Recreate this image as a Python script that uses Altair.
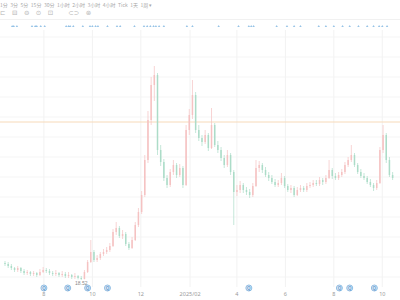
import altair as alt
import pandas as pd

# ---------------- data ----------------
start_date = "2024-06-13"
candle_days = 4
first_open = 27.0
closes = [26.5, 25.5, 24.5, 23.5, 24.5, 23.0, 22.0, 22.5, 21.5, 22.0,
          21.0, 22.5, 23.5, 23.0, 22.0, 21.5, 22.0, 21.0, 21.5, 20.5,
          21.0, 20.0, 20.5, 19.5, 19.0, 22.5, 27.5, 32.5, 28.5, 29.5,
          31.5, 32.5, 33.5, 35.5, 42.5, 44.5, 40.5, 41.5, 36.5, 34.5,
          38.5, 46.0, 52.5, 61.0, 78.5, 98.5, 116.0, 121.0, 83.5, 77.5,
          69.5, 66.0, 72.5, 76.0, 71.0, 74.5, 66.0, 93.5, 101.0, 111.0,
          93.5, 89.5, 87.5, 91.0, 84.5, 96.0, 86.0, 83.5, 79.5, 76.0,
          81.0, 72.5, 62.5, 63.5, 66.0, 63.5, 62.5, 61.0, 65.5, 74.5,
          76.0, 73.5, 71.0, 69.5, 67.5, 66.0, 67.0, 69.5, 65.5, 63.5,
          64.5, 61.0, 63.5, 64.5, 63.5, 65.5, 66.0, 67.0, 66.5, 68.5,
          67.5, 69.5, 73.5, 70.5, 69.5, 71.0, 72.5, 76.0, 78.5, 81.0,
          76.0, 72.5, 70.5, 69.5, 67.5, 66.0, 64.5, 67.0, 83.5, 91.0,
          78.5, 71.0, 69.5]
highs = [28.0, 27.5, 26.5, 25.0, 25.5, 25.0, 24.0, 23.5, 23.0, 23.0,
         22.5, 24.0, 25.0, 24.5, 24.0, 23.0, 23.5, 22.5, 23.0, 22.5,
         22.5, 21.5, 22.0, 21.0, 20.5, 23.5, 28.5, 38.5, 33.5, 31.0,
         32.5, 34.0, 35.0, 37.0, 44.0, 47.5, 45.5, 43.5, 42.5, 37.5,
         40.0, 47.5, 54.5, 63.0, 81.0, 103.0, 120.0, 125.5, 122.0, 86.0,
         79.0, 71.0, 74.0, 78.5, 77.0, 76.5, 75.5, 96.0, 104.0, 118.5,
         112.5, 96.0, 91.0, 93.5, 92.0, 104.5, 97.0, 88.0, 85.0, 81.0,
         83.5, 82.0, 73.5, 66.0, 68.0, 67.0, 65.0, 64.0, 67.0, 78.5,
         78.0, 77.0, 75.0, 72.5, 71.0, 69.0, 68.5, 72.0, 70.5, 66.5,
         66.0, 65.5, 65.0, 66.0, 65.5, 67.0, 67.5, 68.5, 68.5, 70.0,
         69.5, 71.0, 78.5, 74.5, 72.0, 72.5, 74.0, 77.5, 80.0, 86.0,
         82.0, 77.0, 74.0, 72.0, 70.5, 69.0, 67.0, 68.5, 85.0, 96.0,
         92.0, 80.0, 72.5]
lows = [25.5, 24.5, 23.5, 22.5, 22.5, 22.0, 21.0, 21.0, 20.5, 20.5,
        20.0, 20.5, 22.0, 22.0, 21.0, 20.5, 20.5, 20.0, 20.0, 19.5,
        19.5, 19.0, 19.0, 18.8, 18.52, 18.8, 22.0, 27.0, 27.5, 27.5,
        28.5, 30.5, 31.5, 32.5, 35.0, 41.0, 39.5, 39.0, 35.5, 33.5,
        34.0, 38.0, 45.0, 51.5, 60.0, 77.0, 96.0, 108.0, 81.0, 75.5,
        68.0, 64.5, 65.0, 71.0, 69.5, 70.0, 64.5, 65.5, 91.0, 99.0,
        92.0, 88.0, 85.5, 86.5, 83.0, 84.0, 85.0, 82.0, 78.0, 74.5,
        75.0, 71.0, 46.0, 60.5, 62.0, 62.0, 61.0, 59.5, 60.0, 65.0,
        72.5, 72.0, 70.0, 68.0, 66.5, 65.0, 65.0, 66.0, 64.5, 62.5,
        62.0, 60.0, 60.5, 62.5, 62.5, 62.5, 64.5, 65.0, 65.5, 65.5,
        66.0, 66.5, 69.0, 69.0, 68.5, 68.5, 70.0, 71.5, 75.0, 77.5,
        75.0, 71.5, 69.5, 68.5, 66.5, 65.0, 63.0, 63.5, 66.5, 82.0,
        77.0, 70.0, 68.5]

grid_prices = [20, 30, 40, 50, 60, 70, 80, 90, 100, 110, 120, 130, 140]
ref_price = 97.5
min_label = "18.52"
min_date = "2024-09-17"

tick_dates = ["2024-08-01", "2024-10-01", "2024-12-01", "2025-02-01",
              "2025-04-01", "2025-06-01", "2025-08-01", "2025-10-01"]
tick_labels = ["8", "10", "12", "2025/02", "4", "6", "8", "10"]

top_event_dates = ["2024-06-22", "2024-06-24", "2024-06-28", "2024-07-17", "2024-07-21",
                   "2024-07-23", "2024-07-28", "2024-08-02", "2024-08-29", "2024-09-01",
                   "2024-09-03", "2024-09-07", "2024-09-19", "2024-09-28", "2024-10-01",
                   "2024-10-05", "2024-10-08", "2024-10-20", "2024-11-01", "2024-11-05",
                   "2024-11-23", "2024-12-05", "2024-12-09", "2024-12-13", "2024-12-17",
                   "2024-12-20", "2024-12-24", "2024-12-30", "2025-01-28", "2025-02-04",
                   "2025-03-09", "2025-04-03", "2025-04-16", "2025-04-19", "2025-04-22",
                   "2025-05-21", "2025-06-03", "2025-06-12", "2025-06-20", "2025-07-13",
                   "2025-07-22", "2025-08-01", "2025-08-12", "2025-08-21", "2025-09-01",
                   "2025-09-12", "2025-09-20", "2025-09-27", "2025-10-01", "2025-10-07"]
bottom_event_dates = ["2024-08-01", "2024-08-31", "2024-09-25", "2024-10-20",
                      "2025-04-16", "2025-08-08", "2025-08-21", "2025-09-21"]

toolbar_items = ["1分", "3分", "5分", "15分", "30分", "1小时", "2小时", "3小时", "4小时", "Tick", "1天", "1周 ▾"]
icon_items = ["⊏", "⊟", "⊖", "⊙", "⊡", " ", "⊂⊃", "⊚"]

# ---------------- frames ----------------
dates = pd.date_range(start_date, periods=len(closes), freq=f"{candle_days}D")
opens = [first_open] + closes[:-1]
df = pd.DataFrame({"date": dates, "open": opens, "close": closes, "high": highs, "low": lows})
df["dir"] = ["up" if c >= o else "down" for o, c in zip(opens, closes)]

ticks_df = pd.DataFrame({"date": pd.to_datetime(tick_dates), "label": tick_labels})
top_df = pd.DataFrame({"date": pd.to_datetime(top_event_dates)})
bot_df = pd.DataFrame({"date": pd.to_datetime(bottom_event_dates)})
min_df = pd.DataFrame({"date": pd.to_datetime([min_date]), "label": [min_label]})

toolbar_text = "\u2002".join(toolbar_items)
icon_text = "\u2002\u2002".join(icon_items)

W, H = 400, 300
xs = alt.Scale(domain=[alt.DateTime(year=2024, month=6, date=13),
                       alt.DateTime(year=2025, month=10, date=17)])
ys = alt.Scale(domain=[8.5, 158.5], nice=False, zero=False)
X = alt.X("date:T", scale=xs, axis=None)
color = alt.Color("dir:N", scale=alt.Scale(domain=["up", "down"], range=["#f5c2c2", "#acdcc8"]), legend=None)

hgrid = alt.Chart(pd.DataFrame({"p": grid_prices})).mark_rule(color="#f5f5f5", strokeWidth=1).encode(
    y=alt.Y("p:Q", scale=ys, axis=None))
vgrid = alt.Chart(ticks_df).mark_rule(color="#f2f2f2", strokeWidth=1).encode(
    x=X, y=alt.value(30), y2=alt.value(287))
ref = alt.Chart(pd.DataFrame({"p": [ref_price]})).mark_rule(color="#f7dab9", strokeWidth=1).encode(
    y=alt.Y("p:Q", scale=ys, axis=None))
wick = alt.Chart(df).mark_rule(strokeWidth=0.7).encode(
    x=X, y=alt.Y("low:Q", scale=ys, axis=None), y2="high:Q", color=color)
body = alt.Chart(df).mark_bar(size=1.5).encode(
    x=X, y=alt.Y("open:Q", scale=ys, axis=None), y2="close:Q", color=color)

tick_text = alt.Chart(ticks_df).mark_text(fontSize=5.5, color="#9a9a9a", font="Noto Sans").encode(
    x=X, y=alt.value(294), text="label:N")
top_dots = alt.Chart(top_df).mark_point(shape="triangle-up", filled=True, size=6, color="#6aa9dc").encode(
    x=X, y=alt.value(26))
bot_circ = alt.Chart(bot_df).mark_circle(size=36, color="#d9e9f7", stroke="#92bee4", strokeWidth=1, opacity=1).encode(
    x=X, y=alt.value(288))
bot_in = alt.Chart(bot_df).mark_text(text="Q", fontSize=4.5, color="#6a9fd0", fontWeight="bold").encode(
    x=X, y=alt.value(288.5))
min_text = alt.Chart(min_df).mark_text(fontSize=5, color="#8a8a8a").encode(
    x=X, y=alt.value(283), text="label:N")

toolbar = alt.Chart(pd.DataFrame({"t": [toolbar_text]})).mark_text(
    align="left", fontSize=5, color="#a8a8a8", font="Noto Sans CJK SC").encode(
    x=alt.value(0), y=alt.value(5), text="t:N")
icons = alt.Chart(pd.DataFrame({"t": [icon_text]})).mark_text(
    align="left", fontSize=6.5, color="#b4b4b4", font="DejaVu Sans").encode(
    x=alt.value(0), y=alt.value(13), text="t:N")
sep = alt.Chart(pd.DataFrame({"p": [0]})).mark_rule(color="#f1f1f1").encode(
    y=alt.value(19.5), x=alt.value(0), x2=alt.value(W))

chart = alt.layer(
    hgrid, vgrid, ref, wick, body, tick_text, top_dots, bot_circ, bot_in, min_text, toolbar, icons, sep
).properties(
    width=W, height=H, autosize="none", padding=0, background="white"
).configure_view(stroke=None)

chart.save("out.html", embed_options={"renderer": "svg", "actions": False})
